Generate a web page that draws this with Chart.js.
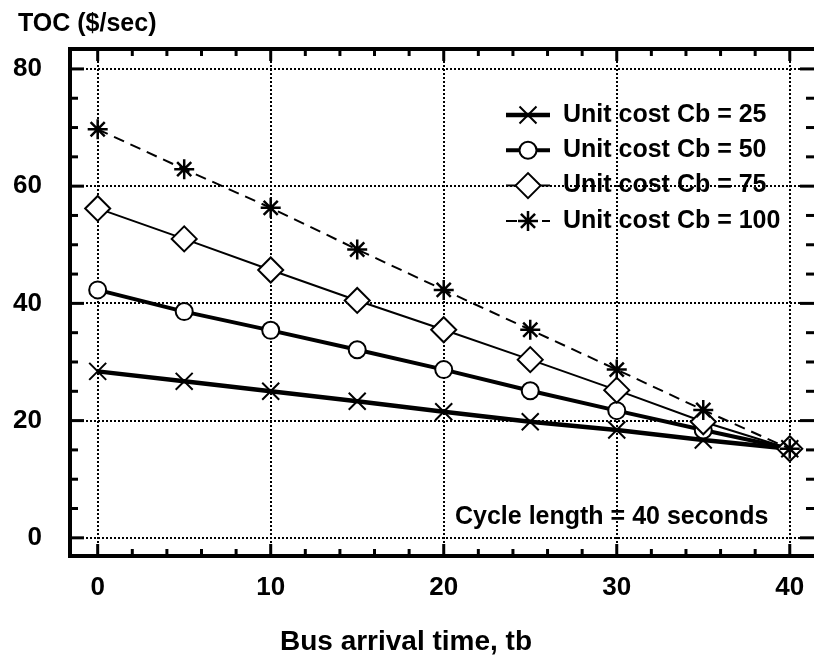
<!DOCTYPE html>
<html>
<head>
<meta charset="utf-8">
<script src="https://cdn.jsdelivr.net/npm/chart.js@4.4.1/dist/chart.umd.min.js"></script>
<style>
  html, body { margin: 0; padding: 0; background: #fff; }
  canvas { display: block; }
</style>
</head>
<body>
<canvas id="toc" width="814" height="659"></canvas>
<script>
const arrivalTimes = [0, 5, 10, 15, 20, 25, 30, 35, 40];
const cost25 = [28.4, 26.7, 25.0, 23.3, 21.5, 19.8, 18.4, 16.7, 15.2];
const cost50 = [42.3, 38.6, 35.4, 32.1, 28.7, 25.1, 21.7, 18.4, 15.2];
const cost75 = [56.2, 51.0, 45.7, 40.5, 35.5, 30.4, 25.2, 19.8, 15.2];
const cost100 = [69.7, 62.9, 56.3, 49.2, 42.3, 35.5, 28.7, 21.8, 15.2];
const seriesLabels = ['Unit cost Cb = 25', 'Unit cost Cb = 50', 'Unit cost Cb = 75', 'Unit cost Cb = 100'];
const xTickLabels = [0, 10, 20, 30, 40];
const yTickLabels = [0, 20, 40, 60, 80];
const yTitle = 'TOC ($/sec)';
const xTitle = 'Bus arrival time, tb';
const note = 'Cycle length = 40 seconds';

const family = '"Liberation Sans", Arial, sans-serif';

function toPoints(values) {
    return arrivalTimes.map((t, i) => ({ x: t, y: values[i] }));
}

// frame, inward ticks, titles, legend
const decorPlugin = {
    id: 'decor',
    afterDraw(chart) {
        const ctx = chart.ctx;
        const a = chart.chartArea;
        const xs = chart.scales.x;
        const ys = chart.scales.y;
        const line = (x1, y1, x2, y2) => {
            ctx.beginPath();
            ctx.moveTo(x1, y1);
            ctx.lineTo(x2, y2);
            ctx.stroke();
        };
        ctx.save();
        ctx.strokeStyle = '#000';
        ctx.lineWidth = 3;
        for (let v = 0; v <= 40; v += 2) {
            const px = xs.getPixelForValue(v);
            const len = v % 10 === 0 ? 12 : 7;
            line(px, a.bottom, px, a.bottom - len);
            line(px, a.top, px, a.top + len);
        }
        for (let v = 0; v <= 80; v += 5) {
            const py = ys.getPixelForValue(v);
            const len = v % 20 === 0 ? 14 : 8;
            line(a.left, py, a.left + len, py);
            line(a.right, py, a.right - len, py);
        }
        ctx.lineWidth = 4;
        ctx.beginPath();
        ctx.moveTo(a.right + 2, a.top);
        ctx.lineTo(a.left, a.top);
        ctx.lineTo(a.left, a.bottom);
        ctx.lineTo(a.right + 2, a.bottom);
        ctx.stroke();

        ctx.fillStyle = '#000';
        ctx.textBaseline = 'middle';
        ctx.textAlign = 'left';
        ctx.font = 'bold 25px ' + family;
        ctx.fillText(yTitle, 18, 24);
        ctx.fillText(note, a.left + 385, a.bottom - 39);
        ctx.textAlign = 'center';
        ctx.font = 'bold 28px ' + family;
        ctx.fillText(xTitle, a.left + 336, 642);

        // legend
        ctx.textAlign = 'left';
        ctx.font = 'bold 25px ' + family;
        chart.data.datasets.forEach((ds, i) => {
            const y = a.top + 66 + i * 35.3;
            const x0 = a.right - 308;
            ctx.save();
            ctx.strokeStyle = '#000';
            ctx.lineWidth = ds.borderWidth;
            ctx.setLineDash(ds.borderDash || []);
            line(x0, y, x0 + 44, y);
            ctx.restore();
            ctx.save();
            ctx.strokeStyle = '#000';
            ctx.fillStyle = ds.pointBackgroundColor;
            ctx.lineWidth = ds.pointBorderWidth;
            Chart.helpers.drawPoint(ctx, {
                pointStyle: ds.pointStyle,
                radius: ds.pointRadius,
                borderWidth: ds.pointBorderWidth,
                rotation: 0
            }, x0 + 22, y);
            ctx.restore();
            ctx.fillStyle = '#000';
            ctx.fillText(ds.label, x0 + 57, y);
        });
        ctx.restore();
    }
};

const ctx = document.getElementById('toc').getContext('2d');
const tocChart = new Chart(ctx, {
    type: 'line',
    data: {
        datasets: [{
            label: seriesLabels[0],
            data: toPoints(cost25),
            borderColor: '#000',
            borderWidth: 4.5,
            pointStyle: 'crossRot',
            pointRadius: 12,
            pointBorderWidth: 2,
            pointBorderColor: '#000',
            pointBackgroundColor: 'rgba(0,0,0,0)',
            order: 4
        }, {
            label: seriesLabels[1],
            data: toPoints(cost50),
            borderColor: '#000',
            borderWidth: 4,
            pointStyle: 'circle',
            pointRadius: 8.5,
            pointBorderWidth: 2,
            pointBorderColor: '#000',
            pointBackgroundColor: '#fff',
            order: 3
        }, {
            label: seriesLabels[2],
            data: toPoints(cost75),
            borderColor: '#000',
            borderWidth: 2,
            pointStyle: 'rectRot',
            pointRadius: 12.5,
            pointBorderWidth: 2,
            pointBorderColor: '#000',
            pointBackgroundColor: '#fff',
            order: 2
        }, {
            label: seriesLabels[3],
            data: toPoints(cost100),
            borderColor: '#000',
            borderWidth: 2,
            borderDash: [11, 7],
            pointStyle: 'star',
            pointRadius: 10,
            pointBorderWidth: 2.5,
            pointBorderColor: '#000',
            pointBackgroundColor: 'rgba(0,0,0,0)',
            order: 1
        }]
    },
    options: {
        responsive: false,
        animation: false,
        events: [],
        layout: { autoPadding: false, padding: { top: 49, left: 0, right: 0, bottom: 0 } },
        plugins: {
            legend: { display: false },
            tooltip: { enabled: false },
            title: { display: false }
        },
        scales: {
            x: {
                type: 'linear',
                min: -1.6,
                max: 41.4,
                afterBuildTicks: (s) => { s.ticks = xTickLabels.map(v => ({ value: v })); },
                afterFit: (s) => { s.height = 103; s.paddingLeft = 0; s.paddingRight = 0; },
                grid: { color: '#000', lineWidth: 2, drawTicks: false },
                border: { display: false, dash: [2, 2] },
                ticks: {
                    color: '#000',
                    padding: 16,
                    maxRotation: 0,
                    autoSkip: false,
                    font: { family: family, size: 26, weight: 'bold' }
                }
            },
            y: {
                type: 'linear',
                min: -3.1,
                max: 83.4,
                afterBuildTicks: (s) => { s.ticks = yTickLabels.map(v => ({ value: v })); },
                afterFit: (s) => { s.width = 70; s.paddingTop = 0; s.paddingBottom = 0; },
                grid: { color: '#000', lineWidth: 2, drawTicks: false },
                border: { display: false, dash: [2, 2] },
                ticks: {
                    color: '#000',
                    padding: 28,
                    font: { family: family, size: 26, weight: 'bold' }
                }
            }
        }
    },
    plugins: [decorPlugin]
});
</script>
</body>
</html>
